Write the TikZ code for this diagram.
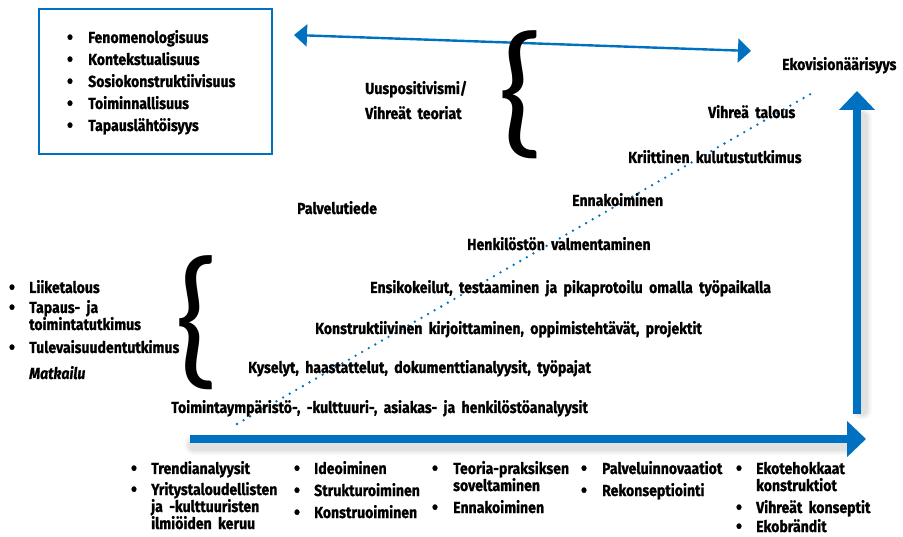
\documentclass[tikz,border=0pt]{standalone}
\usepackage{fontspec}
\setmainfont{Fira Sans}[FakeStretch=0.88, WordSpace=1.9, BoldFeatures={FakeBold=0.9}, BoldItalicFeatures={FakeBold=0.9}]
\newfontfamily\bracefont{Carlito}
\usetikzlibrary{arrows.meta}
\definecolor{axisblue}{RGB}{0,112,192}
\begin{document}
\begin{tikzpicture}[x=1pt,y=-1pt,
  lbl/.style={anchor=base west, inner sep=0pt, font=\fontsize{16}{19}\selectfont\bfseries},
  dot/.style={anchor=base, inner sep=0pt, font=\fontsize{20}{19}\selectfont\bfseries, yshift=-1pt},
  bigbrace/.style={inner sep=0pt, anchor=center},
  thinarrow/.style={draw=axisblue, line width=2.4pt, {Triangle[length=13pt,width=22pt]}-{Triangle[length=13pt,width=24pt]}},
  bigarrow/.style={draw=axisblue, line width=7.5pt, -{Triangle[length=19pt,width=35pt]}},
  shadowline/.style={draw=black, line cap=round},
  diag/.style={draw=axisblue, line width=2.6pt, line cap=round, dash pattern=on 0pt off 7.6pt}
]
\useasboundingbox (0,0) rectangle (903,537);

% framed list of research approaches
\node[draw=axisblue, line width=2pt, minimum width=233pt, minimum height=145pt, anchor=north west, inner sep=0pt] (frame) at (38,8) {};
\foreach \t/\y [count=\i] in {Fenomenologisuus/43, Kontekstualisuus/65, Sosiokonstruktiivisuus/87, Toiminnallisuus/109, Tapauslähtöisyys/131}{
  \node[dot] (fb\i) at (70,\y) {•};
  \node[lbl] (ft\i) at (88,\y) {\t};
}

% soft shadows under the axes
\foreach \o/\a in {6/0.03, 4/0.04, 2/0.05}{
  \draw[shadowline, line width=7.5pt+2*\o pt, opacity=\a] (194,445) -- (848,445);
  \draw[shadowline, line width=7.5pt+2*\o pt, opacity=\a] (862,118) -- (862,410);
}

% axes
\coordinate (xstart) at (190,439);
\coordinate (xend) at (866,439);
\coordinate (ystart) at (857,414);
\coordinate (yend) at (857,91);
\draw[bigarrow] (xstart) -- (xend);
\draw[bigarrow] (ystart) -- (yend);

% two-way arrow at the top
\coordinate (topl) at (294,35);
\coordinate (topr) at (751,51);
\draw[thinarrow] (topl) -- (topr);

% dotted diagonal
\coordinate (dstart) at (237,424);
\coordinate (dend) at (814,92);
\draw[diag] (dstart) -- (dend);

% braces
\node[bigbrace] (brtop) at (521,95) {\resizebox*{48pt}{128pt}{\bracefont\{}};
\node[bigbrace] (brleft) at (197,323) {\resizebox*{46pt}{134pt}{\bracefont\{}};

% upper labels
\node[lbl] (uus) at (365,94) {Uuspositivismi/};
\node[lbl] (vte) at (365,119) {Vihreät teoriat};
\node[lbl] (eko) at (782,70) {Ekovisionäärisyys};

% steps along the diagonal
\node[lbl] (s9) at (708,118) {Vihreä talous};
\node[lbl] (s8) at (628,163) {Kriittinen kulutustutkimus};
\node[lbl] (s7) at (572,206) {Ennakoiminen};
\node[lbl] (pal) at (297,214) {Palvelutiede};
\node[lbl] (s6) at (467,250) {Henkilöstön valmentaminen};
\node[lbl] (s5) at (370,293) {Ensikokeilut, testaaminen ja pikaprotoilu omalla työpaikalla};
\node[lbl] (s4) at (315,334) {Konstruktiivinen kirjoittaminen, oppimistehtävät, projektit};
\node[lbl] (s3) at (248,373) {Kyselyt, haastattelut, dokumenttianalyysit, työpajat};
\node[lbl] (s2) at (171,413) {Toimintaympäristö-, -kulttuuri-, asiakas- ja henkilöstöanalyysit};

% disciplines on the left
\node[dot] (lb1) at (12,293) {•};
\node[lbl] (lt1) at (29,293) {Liiketalous};
\node[dot] (lb2) at (12,313) {•};
\node[lbl] (lt2) at (29,313) {Tapaus- ja};
\node[lbl] (lt2b) at (29,330) {toimintatutkimus};
\node[dot] (lb3) at (12,353) {•};
\node[lbl] (lt3) at (29,353) {Tulevaisuudentutkimus};
\node[lbl, font=\fontsize{16}{19}\selectfont\bfseries\itshape] (lt4) at (29,379) {Matkailu};

% bottom columns
\node[dot] (c1b1) at (134,474) {•};
\node[lbl] (c1t1) at (151,474) {Trendianalyysit};
\node[dot] (c1b2) at (134,495) {•};
\node[lbl] (c1t2) at (151,495) {Yritystaloudellisten};
\node[lbl] (c1t2b) at (151,512) {ja -kulttuuristen};
\node[lbl] (c1t2c) at (151,529) {ilmiöiden keruu};

\node[dot] (c2b1) at (297,474) {•};
\node[lbl] (c2t1) at (314,474) {Ideoiminen};
\node[dot] (c2b2) at (297,496) {•};
\node[lbl] (c2t2) at (314,496) {Strukturoiminen};
\node[dot] (c2b3) at (297,518) {•};
\node[lbl] (c2t3) at (314,518) {Konstruoiminen};

\node[dot] (c3b1) at (435,474) {•};
\node[lbl] (c3t1) at (453,474) {Teoria-praksiksen};
\node[lbl] (c3t1b) at (453,491) {soveltaminen};
\node[dot] (c3b2) at (435,513) {•};
\node[lbl] (c3t2) at (453,513) {Ennakoiminen};

\node[dot] (c4b1) at (584,474) {•};
\node[lbl] (c4t1) at (602,474) {Palveluinnovaatiot};
\node[dot] (c4b2) at (584,496) {•};
\node[lbl] (c4t2) at (602,496) {Rekonseptiointi};

\node[dot] (c5b1) at (739,474) {•};
\node[lbl] (c5t1) at (756,474) {Ekotehokkaat};
\node[lbl] (c5t1b) at (756,491) {konstruktiot};
\node[dot] (c5b2) at (739,513) {•};
\node[lbl] (c5t2) at (756,513) {Vihreät konseptit};
\node[dot] (c5b3) at (739,532) {•};
\node[lbl] (c5t3) at (756,532) {Ekobrändit};
\end{tikzpicture}
\end{document}
